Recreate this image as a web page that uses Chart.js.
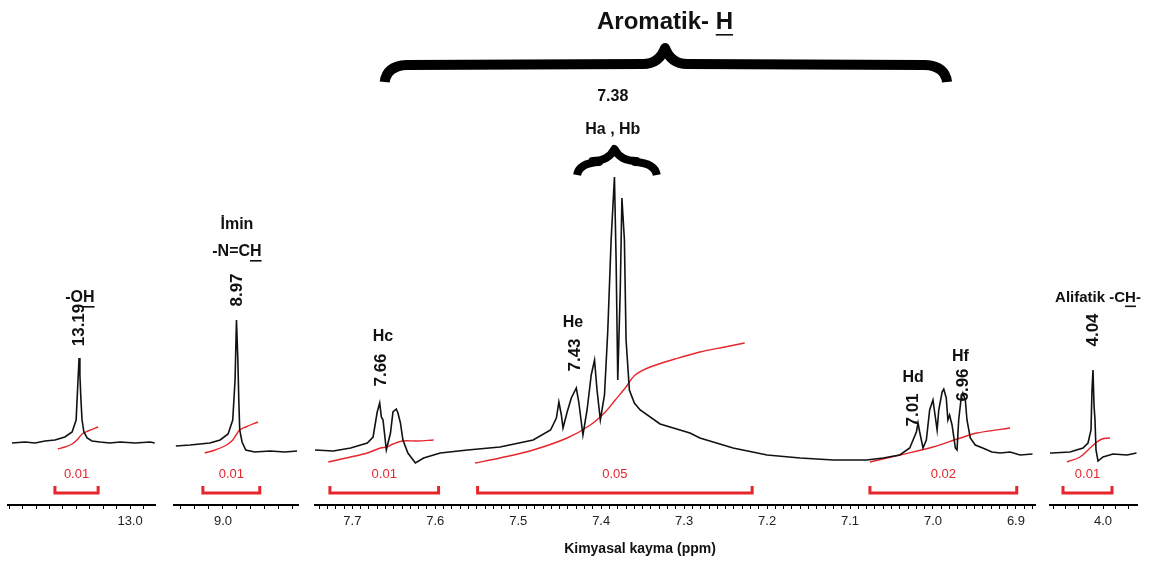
<!DOCTYPE html>
<html>
<head>
<meta charset="utf-8">
<script src="https://cdn.jsdelivr.net/npm/chart.js@4.4.1/dist/chart.umd.min.js"></script>
<style>
    body { margin: 0; background: #fff; }
    #wrap { position: relative; width: 1153px; height: 563px; }
    #wrap canvas { position: absolute; left: 0; top: 0; }
</style>
</head>
<body>
<div id="wrap">
    <canvas id="pOH" width="1153" height="563"></canvas>
    <canvas id="pImin" width="1153" height="563"></canvas>
    <canvas id="pArom" width="1153" height="563"></canvas>
    <canvas id="pAlif" width="1153" height="563"></canvas>
</div>
<script>
// -OH bolgesi
const ohPpm = [13.440, 13.392, 13.354, 13.317, 13.280, 13.243, 13.216, 13.201, 13.194, 13.190, 13.187, 13.183, 13.179, 13.172, 13.160, 13.142, 13.112, 13.075, 13.037, 12.981, 12.925, 12.908];
const ohInt = [2, 3, 2, 4, 5, 8, 13, 25, 65, 87, 70, 45, 25, 13, 7, 4, 3, 2, 3, 2, 3, 2];
const ohIntegPpm = [13.269, 13.243, 13.216, 13.194, 13.179, 13.157, 13.119];
const ohIntegVal = [-4, -2, 1, 6, 11, 14, 18];
const ohBracket = [13.280, 13.119];
const ohArea = '0.01';
const ohTicks = [13.0];

// imin bolgesi
const iminPpm = [9.101, 9.071, 9.049, 9.028, 9.006, 8.989, 8.979, 8.974, 8.971, 8.968, 8.966, 8.964, 8.959, 8.951, 8.932, 8.899, 8.867, 8.841];
const iminInt = [-1, 0, 1, 2, 5, 11, 25, 65, 125, 85, 45, 15, 3, -5, -7, -6, -7, -6];
const iminIntegPpm = [9.039, 9.017, 8.996, 8.981, 8.972, 8.964, 8.951, 8.925];
const iminIntegVal = [-8, -5, -1, 4, 10, 15, 18, 23];
const iminBracket = [9.043, 8.921];
const iminArea = '0.01';
const iminTicks = [9.0];

// aromatik bolge
const aromPpm = [7.745, 7.723, 7.702, 7.682, 7.675, 7.670, 7.667, 7.665, 7.663, 7.659, 7.654, 7.651, 7.647, 7.645, 7.642, 7.639, 7.633, 7.624, 7.614, 7.594, 7.561, 7.522, 7.482, 7.461, 7.454, 7.451, 7.448, 7.446, 7.441, 7.436, 7.430, 7.427, 7.422, 7.417, 7.412, 7.408, 7.405, 7.401, 7.396, 7.392, 7.388, 7.384, 7.382, 7.380, 7.377, 7.375, 7.372, 7.370, 7.366, 7.360, 7.353, 7.329, 7.293, 7.281, 7.241, 7.200, 7.160, 7.120, 7.080, 7.060, 7.040, 7.028, 7.020, 7.018, 7.016, 7.012, 7.008, 7.004, 7.000, 6.998, 6.995, 6.993, 6.989, 6.987, 6.984, 6.982, 6.980, 6.977, 6.973, 6.971, 6.969, 6.966, 6.964, 6.961, 6.959, 6.955, 6.949, 6.940, 6.929, 6.919, 6.907, 6.895, 6.880];
const aromInt = [-5, -6, -3, 2, 8, 33, 42, 28, 25, -5, 12, 33, 36, 32, 22, 5, -8, -18, -13, -8, -5, -2, 5, 15, 27, 43, 30, 17, 33, 47, 57, 43, 10, 35, 70, 85, 55, 25, 50, 115, 205, 268, 185, 65, 155, 247, 205, 105, 55, 42, 35, 21, 12, 7, -3, -10, -13, -15, -15, -13, -10, -3, 13, 22, 13, -3, 5, 35, 45, 33, 15, 35, 53, 56, 47, 25, 30, 20, -3, -5, 25, 47, 52, 45, 25, 7, 0, -3, -7, -8, -7, -10, -9];
const hcIntegPpm = [7.729, 7.702, 7.682, 7.666, 7.658, 7.651, 7.639, 7.622, 7.602];
const hcIntegVal = [-17, -12, -8, -3, -2, 1, 4, 4, 5];
const habIntegPpm = [7.552, 7.522, 7.482, 7.441, 7.413, 7.395, 7.383, 7.371, 7.359, 7.341, 7.311, 7.281, 7.251, 7.227];
const habIntegVal = [-18, -13, -5, 7, 20, 33, 45, 57, 70, 78, 86, 93, 98, 102];
const hdfIntegPpm = [7.076, 7.040, 7.000, 6.967, 6.947, 6.907];
const hdfIntegVal = [-17, -10, -2, 7, 12, 17];
const aromBrackets = [[7.727, 7.596], [7.549, 7.218], [7.076, 6.899]];
const aromAreas = ['0.01', '0.05', '0.02'];
const aromTicks = [7.7, 7.6, 7.5, 7.4, 7.3, 7.2, 7.1, 7.0, 6.9];

// alifatik bolge
const alifPpm = [4.212, 4.204, 4.132, 4.080, 4.060, 4.048, 4.044, 4.040, 4.036, 4.032, 4.028, 4.020, 4.000, 3.960, 3.904, 3.866];
const alifInt = [-8, -8, -7, -3, 2, 15, 55, 75, 40, 25, -5, -16, -12, -9, -10, -8];
const alifIntegPpm = [4.144, 4.092, 4.052, 4.024, 4.004, 3.972];
const alifIntegVal = [-17, -12, -3, 3, 6, 7];
const alifBracket = [4.160, 3.964];
const alifArea = '0.01';
const alifTicks = [4.0];

const FONT = '"Liberation Sans", Arial, sans-serif';
const RED = '#e5262d';

function pts(xs, ys) {
    return xs.map((x, i) => ({ x: x, y: ys[i] }));
}

function bracketPts(r) {
    return [{ x: r[0], y: -41 }, { x: r[0], y: -48 }, { x: r[1], y: -48 }, { x: r[1], y: -41 }];
}

function spectrumSet(data) {
    return { data: data, borderColor: '#111', borderWidth: 1.6, pointRadius: 0, tension: 0 };
}
function integralSet(data) {
    return { data: data, borderColor: RED, borderWidth: 1.4, pointRadius: 0, tension: 0.35 };
}
function bracketSet(r) {
    return { data: bracketPts(r), borderColor: RED, borderWidth: 3, pointRadius: 0, tension: 0 };
}

function drawText(ctx, n, x, y) {
    ctx.save();
    ctx.font = (n.bold === false ? '' : 'bold ') + (n.size || 16) + 'px ' + FONT;
    ctx.fillStyle = n.color || '#111';
    ctx.textAlign = 'center';
    ctx.textBaseline = 'middle';
    ctx.translate(x, y);
    if (n.rot) ctx.rotate(-Math.PI / 2);
    ctx.fillText(n.t, 0, 0);
    if (n.u !== undefined) {
        const w = ctx.measureText(n.t).width;
        const a = ctx.measureText(n.t.slice(0, n.u)).width;
        const b = ctx.measureText(n.t.slice(0, n.u + 1)).width;
        const uy = (n.size || 16) * 0.5;
        ctx.fillRect(-w / 2 + a, uy, b - a, 1.6);
    }
    ctx.restore();
}

function drawBrace(ctx, L, R, C, yb, yTop, yEnd, lw) {
    ctx.save();
    ctx.strokeStyle = '#000';
    ctx.lineWidth = lw;
    ctx.lineCap = 'butt';
    ctx.lineJoin = 'round';
    ctx.beginPath();
    ctx.moveTo(L, yEnd);
    ctx.quadraticCurveTo(L + 2, yb + 2, L + 22, yb + 1);
    ctx.lineTo(C - 22, yb);
    ctx.quadraticCurveTo(C - 6, yb, C, yTop);
    ctx.quadraticCurveTo(C + 6, yb, C + 22, yb);
    ctx.lineTo(R - 22, yb + 1);
    ctx.quadraticCurveTo(R - 2, yb + 2, R, yEnd);
    ctx.stroke();
    ctx.restore();
}

function notePlugin(notes, brackets, areas, extra) {
    return {
        id: 'notlar',
        afterDatasetsDraw(chart) {
            const ctx = chart.ctx;
            const xs = chart.scales.x;
            const ys = chart.scales.y;
            brackets.forEach((r, i) => {
                drawText(ctx, { t: areas[i], size: 13, bold: false, color: RED },
                    xs.getPixelForValue((r[0] + r[1]) / 2), ys.getPixelForValue(-29));
            });
            notes.forEach(n => {
                drawText(ctx, n, xs.getPixelForValue(n.ppm), ys.getPixelForValue(n.h));
            });
            if (extra) extra(chart, ctx, xs, ys);
        }
    };
}

function makePanel(id, left, right, min, max, step, datasets, tickLabels, plugin) {
    return new Chart(document.getElementById(id), {
        type: 'line',
        data: { datasets: datasets },
        options: {
            responsive: false,
            animation: false,
            devicePixelRatio: 1,
            events: [],
            layout: { padding: { left: left, right: 1153 - right, top: 0, bottom: 0 } },
            plugins: { legend: { display: false }, tooltip: { enabled: false } },
            scales: {
                x: {
                    type: 'linear',
                    reverse: true,
                    min: min,
                    max: max,
                    afterFit: s => { s.height = 58; },
                    grid: { drawOnChartArea: false, color: '#000', tickLength: 4, tickWidth: 1 },
                    border: { display: true, color: '#000', width: 2 },
                    ticks: {
                        stepSize: step,
                        autoSkip: false,
                        maxRotation: 0,
                        includeBounds: false,
                        padding: 5,
                        color: '#222',
                        font: { family: FONT, size: 13 },
                        callback: v => tickLabels.some(t => Math.abs(t - v) < 1e-6) ? v.toFixed(1) : ''
                    }
                },
                y: { display: false, min: -60, max: 445 }
            }
        },
        plugins: [plugin]
    });
}

makePanel('pOH', 8, 155, 12.907, 13.455, 0.05,
    [spectrumSet(pts(ohPpm, ohInt)), integralSet(pts(ohIntegPpm, ohIntegVal)), bracketSet(ohBracket)],
    ohTicks,
    notePlugin([
        { t: '-OH', ppm: 13.187, h: 147, u: 2, size: 16 },
        { t: '13.19', ppm: 13.19, h: 120, rot: true, size: 17 }
    ], [ohBracket], [ohArea]));

makePanel('pImin', 174, 298, 8.839, 9.105, 0.03,
    [spectrumSet(pts(iminPpm, iminInt)), integralSet(pts(iminIntegPpm, iminIntegVal)), bracketSet(iminBracket)],
    iminTicks,
    notePlugin([
        { t: 'İmin', ppm: 8.97, h: 220, size: 16 },
        { t: '-N=CH', ppm: 8.97, h: 193, u: 4, size: 16 },
        { t: '8.97', ppm: 8.97, h: 155, rot: true, size: 17 }
    ], [iminBracket], [iminArea]));

makePanel('pArom', 315, 1035, 6.877, 7.745, 0.01,
    [spectrumSet(pts(aromPpm, aromInt)),
     integralSet(pts(hcIntegPpm, hcIntegVal)),
     integralSet(pts(habIntegPpm, habIntegVal)),
     integralSet(pts(hdfIntegPpm, hdfIntegVal)),
     bracketSet(aromBrackets[0]), bracketSet(aromBrackets[1]), bracketSet(aromBrackets[2])],
    aromTicks,
    notePlugin([
        { t: 'Hc', ppm: 7.663, h: 108, size: 16 },
        { t: '7.66', ppm: 7.665, h: 75, rot: true, size: 17 },
        { t: 'He', ppm: 7.434, h: 122, size: 16 },
        { t: '7.43', ppm: 7.431, h: 90, rot: true, size: 17 },
        { t: '7.38', ppm: 7.386, h: 348, size: 16 },
        { t: 'Ha , Hb', ppm: 7.386, h: 315, size: 16 },
        { t: 'Aromatik- H', ppm: 7.323, h: 423, u: 10, size: 24 },
        { t: 'Hd', ppm: 7.024, h: 67, size: 16 },
        { t: '7.01', ppm: 7.024, h: 35, rot: true, size: 17 },
        { t: 'Hf', ppm: 6.967, h: 88, size: 16 },
        { t: '6.96', ppm: 6.964, h: 60, rot: true, size: 17 }
    ], aromBrackets, aromAreas, (chart, ctx, xs, ys) => {
        drawBrace(ctx, xs.getPixelForValue(7.661), xs.getPixelForValue(6.983), xs.getPixelForValue(7.323), 64, 48, 82, 10);
        drawBrace(ctx, xs.getPixelForValue(7.429), xs.getPixelForValue(7.333), xs.getPixelForValue(7.384), 161, 149, 175, 8);
        drawText(ctx, { t: 'Kimyasal kayma (ppm)', size: 14 }, 640, 549);
    }));

makePanel('pAlif', 1050, 1137, 3.864, 4.212, 0.05,
    [spectrumSet(pts(alifPpm, alifInt)), integralSet(pts(alifIntegPpm, alifIntegVal)), bracketSet(alifBracket)],
    alifTicks,
    notePlugin([
        { t: 'Alifatik -CH-', ppm: 4.02, h: 147, u: 11, size: 15 },
        { t: '4.04', ppm: 4.04, h: 115, rot: true, size: 17 }
    ], [alifBracket], [alifArea]));
</script>
</body>
</html>
